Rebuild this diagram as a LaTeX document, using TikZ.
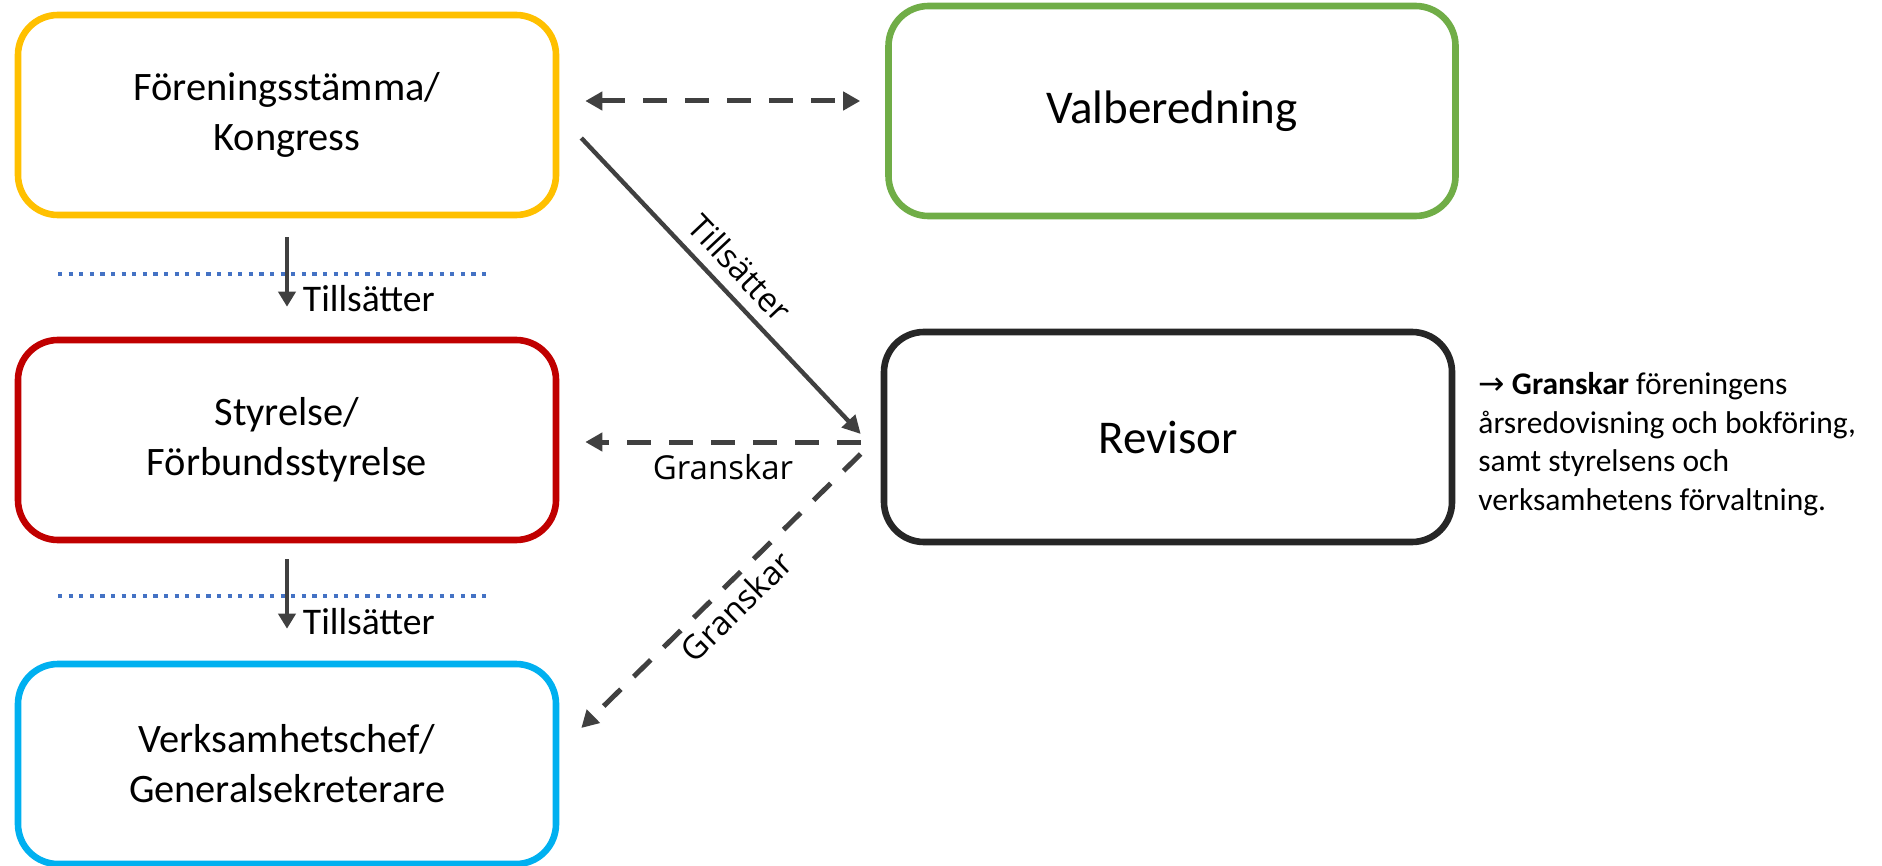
\documentclass[tikz,border=0pt]{standalone}
\usepackage{fontspec}
\setmainfont{Carlito}
\newfontfamily\lblfont{Open Sans}
\newfontfamily\symfont{DejaVu Sans}
\usetikzlibrary{arrows.meta}
\definecolor{orgyellow}{HTML}{FFC000}
\definecolor{orggreen}{HTML}{70AD47}
\definecolor{orgred}{HTML}{C00000}
\definecolor{orgblack}{HTML}{262626}
\definecolor{orgblue}{HTML}{00B0F0}
\definecolor{sepblue}{HTML}{4472C4}
\definecolor{arrowgrey}{HTML}{404040}
\tikzset{
  orgbox/.style={draw=#1, line width=3.3pt, rounded corners=20pt, fill=white,
    minimum width=269pt, minimum height=100pt, align=center,
    font=\fontsize{20.2}{25}\selectfont},
  bigbox/.style={minimum width=284pt, minimum height=105pt,
    font=\fontsize{23.5}{28}\selectfont},
  dasharrow/.style={draw=arrowgrey, line width=2.5pt, dash pattern=on 12pt off 9pt},
  diagarrow/.style={draw=arrowgrey, line width=2.2pt, -{Triangle[length=9pt,width=9pt]}},
  vertarrow/.style={draw=arrowgrey, line width=2.3pt, -{Triangle[length=7.5pt,width=8.5pt]}},
  sepline/.style={draw=sepblue, line width=2pt, dash pattern=on 2.1pt off 3.2pt},
  smalllbl/.style={font=\fontsize{18.8}{22}\selectfont, text=black},
  linelbl/.style={font=\lblfont\fontsize{16.5}{20}\selectfont, text=black},
}
\begin{document}
\begin{tikzpicture}[x=0.5pt, y=-0.5pt]
  \useasboundingbox (0,0) rectangle (1882,866);
  \node[orgbox=orgyellow] (stamma) at (287,115) {Föreningsstämma/\\Kongress};
  \node[orgbox=orggreen, bigbox, minimum width=283.5pt] (valb) at (1172,111) {Valberedning};
  \node[orgbox=orgred] (styr) at (287,440) {Styrelse/\\Förbundsstyrelse};
  \node[orgbox=orgblack, bigbox] (rev) at (1168,437) {Revisor};
  \node[orgbox=orgblue] (vchef) at (287,764) {Verksamhetschef/\\Generalsekreterare};
  \node[anchor=west, align=left, inner sep=0pt, font=\fontsize{15.75}{19.25}\selectfont] (note) at (1478,444)
    {{\symfont →} \textbf{Granskar} föreningens\\årsredovisning och bokföring,\\samt styrelsens och\\verksamhetens förvaltning.};
  \draw[sepline] (58,274) -- (492,274);
  \draw[sepline] (58,596) -- (492,596);
  \draw[vertarrow, shorten <=9.5pt, shorten >=15pt] (stamma.south) -- (styr.north)
    node[smalllbl, pos=0.68, right=3.5pt] {Tillsätter};
  \draw[vertarrow, shorten <=8pt, shorten >=16pt] (styr.south) -- (vchef.north)
    node[smalllbl, pos=0.67, right=3.5pt] {Tillsätter};
  \draw[dasharrow, {Triangle[length=8.5pt,width=9pt]}-{Triangle[length=8.5pt,width=9pt]}]
    ([shift={(26,-14)}]stamma.east) -- ([shift={(-25,-10)}]valb.west);
  \draw[diagarrow] ([shift={(22,23)}]stamma.east) -- ([shift={(-20,-3)}]rev.west)
    node[linelbl, midway, sloped, above=2.5pt] {Tillsätter};
  \draw[dasharrow, -{Triangle[length=8.5pt,width=9pt]}] ([shift={(-20,5)}]rev.west) -- ([shift={(26,2)}]styr.east)
    node[linelbl, midway, below=1.5pt] {Granskar};
  \draw[dasharrow, -{Triangle[length=8.5pt,width=9pt]}] ([shift={(-20,17)}]rev.west) -- ([shift={(22,-36)}]vchef.east)
    node[linelbl, midway, sloped, below] {Granskar};
\end{tikzpicture}
\end{document}
